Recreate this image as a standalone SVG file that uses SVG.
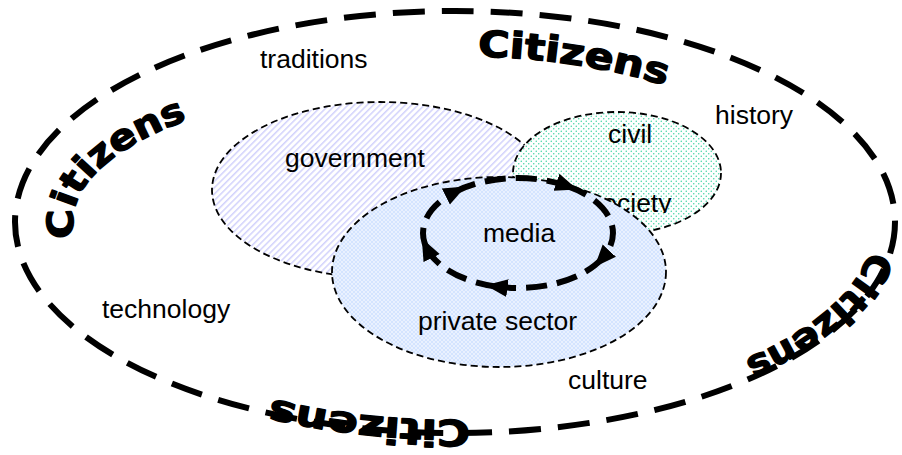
<svg xmlns="http://www.w3.org/2000/svg" width="902" height="455" viewBox="0 0 902 455">
<style>
.lbl{font-family:"Liberation Sans",Arial,sans-serif;font-size:26.5px;fill:#000}
.cit{font-family:"DejaVu Sans","Liberation Sans",sans-serif;font-weight:bold;font-size:36px;fill:#000;stroke:#000;stroke-width:1.4;stroke-linejoin:round}
.node{stroke:#000;stroke-width:1.8;stroke-dasharray:7 4}
.loop{fill:none;stroke:#000;stroke-width:6;stroke-dasharray:21 10;marker-end:url(#ah)}
</style>
<defs>
<pattern id="pg" patternUnits="userSpaceOnUse" width="4.5" height="10" patternTransform="rotate(45)">
<rect width="4.5" height="10" fill="#fff"/><rect width="1.5" height="10" fill="#d2d2fc"/>
</pattern>
<pattern id="pc" patternUnits="userSpaceOnUse" width="5" height="5">
<rect width="5" height="5" fill="#fff"/><circle cx="1.25" cy="1.25" r="0.75" fill="#3fd3a3"/><circle cx="3.75" cy="3.75" r="0.75" fill="#3fd3a3"/>
</pattern>
<pattern id="pp" patternUnits="userSpaceOnUse" width="4" height="4">
<rect width="4" height="4" fill="#d4e4ff"/><path d="M0,0 L4,4 M4,0 L0,4" stroke="#f2f7ff" stroke-width="0.7"/>
</pattern>
<marker id="ah" markerUnits="userSpaceOnUse" markerWidth="22" markerHeight="20" refX="11" refY="10" orient="auto">
<path d="M0,1 L22,10 L0,19 z" fill="#000"/>
</marker>
<clipPath id="socclip"><rect x="560" y="180" width="120" height="33"/></clipPath>
<path id="cTop" d="M478,56.3 A370,166 0 0 1 800,162"/>
<path id="cLeft" d="M75.4,238 A382,143 0 0 1 300,91.3"/>
<path id="cRight" d="M870.4,250 A420,190 0 0 1 600,400.3"/>
<path id="cBottom" d="M470,419.9 A407,198 0 0 1 150,353"/>
</defs>

<g id="citizens-ring">
<ellipse cx="455" cy="222" rx="440" ry="211" fill="none" stroke="#000" stroke-width="6" stroke-dasharray="32 17"/>
</g>

<g id="government">
<ellipse class="node" cx="380" cy="190" rx="168" ry="88" fill="url(#pg)"/>
<text class="lbl" x="285" y="167">government</text>
</g>

<g id="civil-society">
<ellipse class="node" cx="617" cy="173" rx="104" ry="61" fill="url(#pc)"/>
<text class="lbl" x="608" y="143">civil</text>
<text class="lbl" x="589" y="212" clip-path="url(#socclip)">society</text>
</g>

<g id="private-sector">
<ellipse class="node" cx="499" cy="272" rx="167" ry="95" fill="url(#pp)"/>
<text class="lbl" x="418" y="330">private sector</text>
</g>

<g id="media">
<text class="lbl" x="483" y="242">media</text>
</g>

<g id="connectors">
<path class="loop" d="M426.7,248.2 A95,55 0 0 1 455.7,191.5"/>
<path class="loop" d="M455.7,191.5 A95,55 0 0 1 566.9,185.9"/>
<path class="loop" d="M566.9,185.9 A95,55 0 0 1 601.9,258.8"/>
<path class="loop" d="M601.9,258.8 A95,55 0 0 1 496.6,286.6"/>
<path class="loop" d="M496.6,286.6 A95,55 0 0 1 426.7,248.2"/>
</g>

<g id="context-labels">
<text class="lbl" x="260" y="68">traditions</text>
<text class="lbl" x="715" y="124">history</text>
<text class="lbl" x="102" y="318">technology</text>
<text class="lbl" x="568" y="389">culture</text>
</g>

<g id="citizens-labels">
<text class="cit"><textPath href="#cTop" textLength="190" lengthAdjust="spacingAndGlyphs">Citizens</textPath></text>
<text class="cit"><textPath href="#cLeft" textLength="178" lengthAdjust="spacingAndGlyphs">Citizens</textPath></text>
<text class="cit"><textPath href="#cRight" textLength="172" lengthAdjust="spacingAndGlyphs">Citizens</textPath></text>
<text class="cit"><textPath href="#cBottom" textLength="200" lengthAdjust="spacingAndGlyphs">Citizens</textPath></text>
</g>
</svg>
